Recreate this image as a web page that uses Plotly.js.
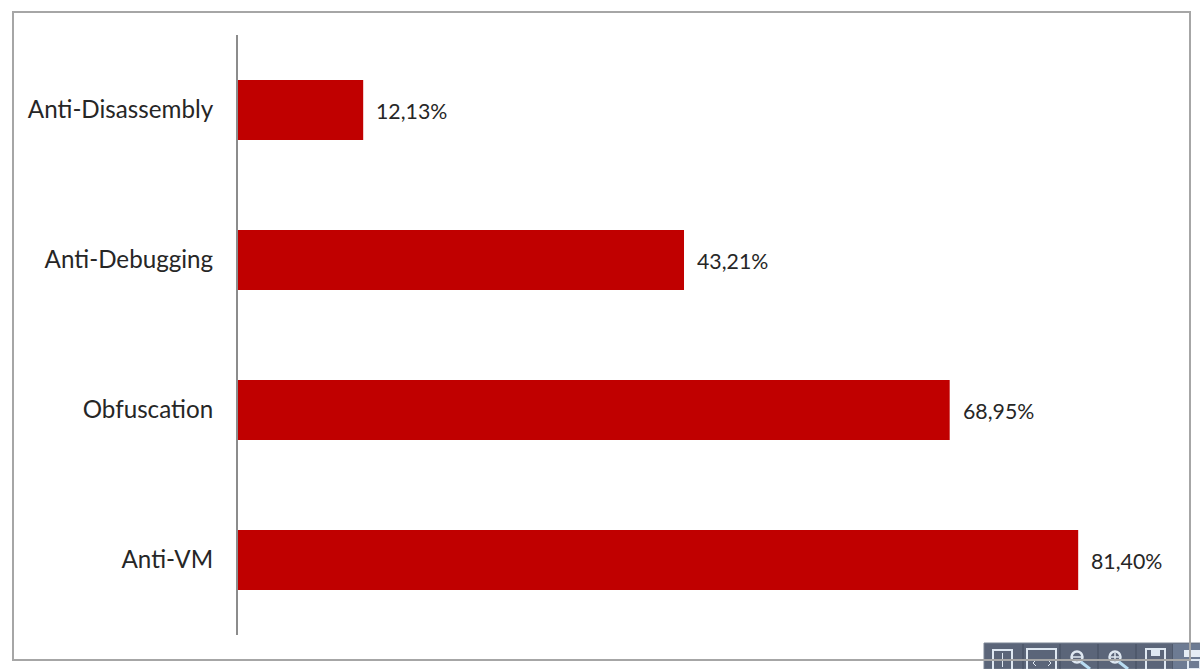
<!DOCTYPE html>
<html><head><meta charset="utf-8"><script src="https://cdn.plot.ly/plotly-3.0.1.min.js"></script>
<style>html,body{margin:0;padding:0;background:#fff}</style></head><body><div id="c" style="width:1200px;height:669px"></div>
<script>
const categories=["Anti-VM","Obfuscation","Anti-Debugging","Anti-Disassembly"];
const values=[81.40,68.95,43.21,12.13];
const labels=["81,40%","68,95%","43,21%","12,13%"];
const W=1200,H=669,L=238,T=35,B=34;
const px=x=>(x-L)/(W-L), py=y=>(H-B-y)/(H-T-B);
const rect=(x0,y0,x1,y1,o)=>Object.assign({type:"rect",xref:"paper",yref:"paper",x0:px(x0),x1:px(x1),y0:py(y1),y1:py(y0),line:{width:0},fillcolor:"rgba(0,0,0,0)"},o);
const seg=(x0,y0,x1,y1,c,w)=>({type:"line",xref:"paper",yref:"paper",x0:px(x0),x1:px(x1),y0:py(y0),y1:py(y1),line:{color:c,width:w}});
const circ=(cx,cy,r,c,w)=>({type:"circle",xref:"paper",yref:"paper",x0:px(cx-r),x1:px(cx+r),y0:py(cy+r),y1:py(cy-r),line:{color:c,width:w},fillcolor:"rgba(0,0,0,0)"});
const icon="#dfe8f2";
const toolbar=[
 rect(984,643,1200,669,{fillcolor:"#5b6579",line:{color:"#7a8494",width:1}}),
 ...[1023,1060,1098,1136,1173].map(x=>seg(x,644,x,669,"#454e60",1)),
 rect(993,650,1012,672,{line:{color:icon,width:2}}),
 seg(1002.5,653,1002.5,667,icon,1),seg(997,660,1008,660,icon,1),
 rect(1027,649,1056,672,{line:{color:icon,width:2}}),
 seg(1036,660,1033,663,icon,1),seg(1033,663,1036,666,icon,1),seg(1048,660,1051,663,icon,1),seg(1051,663,1048,666,icon,1),
 circ(1077,657,5.5,icon,2.5),seg(1072,657,1082,657,icon,1.5),seg(1081,662,1090,669,"#b9dcf2",3),
 circ(1115,657,5.5,icon,2.5),seg(1111,657,1119,657,icon,1.5),seg(1115,653,1115,661,icon,1.5),seg(1119,662,1128,669,"#b9dcf2",3),
 rect(1146,649,1165,672,{line:{color:icon,width:2}}),rect(1151,649,1160,656,{fillcolor:icon}),
 rect(1173,644,1200,669,{fillcolor:"#6d7b93"}),rect(1184,650,1200,657,{fillcolor:"#e6edf5"}),rect(1188,660,1200,669,{line:{color:icon,width:2}})
];
const frame=rect(13,12,1190,660,{line:{color:"#a6a6a6",width:2}});
const annotations=values.map((v,i)=>({x:v,y:categories[i],text:labels[i],showarrow:false,xanchor:"left",xshift:11,yshift:-1,
 font:{family:"Lato, Open Sans, sans-serif",size:21.3,color:"#262626"}}));
Plotly.newPlot("c",[{type:"bar",orientation:"h",y:categories,x:values,marker:{color:"#c00000"},width:0.4,hoverinfo:"skip"}],
{width:W,height:H,margin:{l:L,r:0,t:T,b:B},paper_bgcolor:"#fff",plot_bgcolor:"#fff",showlegend:false,annotations,
 xaxis:{range:[0,93.2],visible:false,fixedrange:true},
 yaxis:{showline:true,linecolor:"#8c8c8c",linewidth:2,ticks:"",tickfont:{family:"Lato, Open Sans, sans-serif",size:24.2,color:"#262626"},range:[-0.5,3.5],fixedrange:true,automargin:false,ticklabelstandoff:18},
 shapes:[...toolbar,frame]
},{displayModeBar:false,staticPlot:true});
</script></body></html>
